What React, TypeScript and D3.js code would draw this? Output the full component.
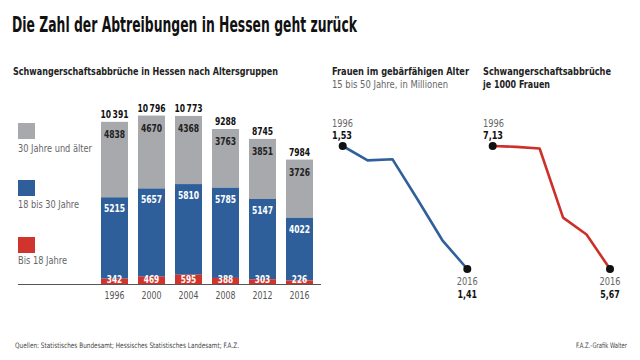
import React from "react";
import * as d3 from "d3";

const years = ["1996", "2000", "2004", "2008", "2012", "2016"];
const under18 = [342, 469, 595, 388, 303, 226];
const age18to30 = [5215, 5657, 5810, 5785, 5147, 4022];
const over30 = [4838, 4670, 4368, 3763, 3851, 3726];
const totals = [10391, 10796, 10773, 9288, 8745, 7984];

const womenMillions = [1.53, 1.516, 1.517, 1.478, 1.438, 1.41];
const ratePer1000 = [7.13, 7.12, 7.1, 6.28, 6.08, 5.67];

const legendLabels = ["30 Jahre und älter", "18 bis 30 Jahre", "Bis 18 Jahre"];

const GRAY = "#a7a9ac";
const BLUE = "#2e5f9b";
const RED = "#d1342d";
const LINE_BLUE = "#30609a";
const LINE_RED = "#cc3029";
const FONT = "'Liberation Sans Narrow','DejaVu Sans Condensed','Open Sans',sans-serif";

const fmtTotal = (v: number) => {
  const s = String(v);
  return s.length > 4 ? s.slice(0, s.length - 3) + "\u2009" + s.slice(-3) : s;
};
const fmtDec = (v: number) => v.toFixed(2).replace(".", ",");

const numW = (s: string) => s.replace(/\u2009/g, "").length * 5.3 + (s.includes("\u2009") ? 1.5 : 0);

type TP = {
  x: number; y: number; w: number; size: number; bold?: boolean; fill: string;
  anchor?: "start" | "middle" | "end"; children: React.ReactNode;
};
const T = ({ x, y, w, size, bold, fill, anchor = "start", children }: TP) => (
  <text x={x} y={y} fontSize={size} fontWeight={bold ? "bold" : "normal"} fill={fill}
    textAnchor={anchor} textLength={w} lengthAdjust="spacingAndGlyphs">{children}</text>
);

export default function App() {
  const x = d3.scaleBand<string>().domain(years).range([101, 313]).paddingInner(0.27).paddingOuter(0);
  const y = d3.scaleLinear().domain([0, 11000]).range([284, 284 - 11000 * 0.0156]);
  const bw = x.bandwidth();

  const x1 = d3.scalePoint<string>().domain(years).range([342.7, 467.3]);
  const y1 = d3.scaleLinear().domain([1.41, 1.53]).range([269, 146]);
  const x2 = d3.scalePoint<string>().domain(years).range([492.7, 610]);
  const y2 = d3.scaleLinear().domain([5.67, 7.13]).range([269, 146]);

  const line1 = d3.line<number>().x((_, i) => x1(years[i])!).y((d) => y1(d));
  const line2 = d3.line<number>().x((_, i) => x2(years[i])!).y((d) => y2(d));

  const legendColors = [GRAY, BLUE, RED];
  const legendSquareY = [123, 180, 237];
  const legendTextY = [152, 208, 264];
  const legendW = [74, 61, 49];

  const lineChart = (
    xs: d3.ScalePoint<string>,
    ys: d3.ScaleLinear<number, number>,
    data: number[],
    path: string,
    color: string,
    labelX: number
  ) => {
    const n = data.length - 1;
    return (
      <g>
        <path d={path} fill="none" stroke={color} strokeWidth={2.6} strokeLinejoin="round" />
        <circle cx={xs(years[0])} cy={ys(data[0])} r={4} fill="#111" />
        <circle cx={xs(years[n])} cy={ys(data[n])} r={4} fill="#111" />
        <T x={labelX} y={126.5} w={21} size={10} fill="#666">{years[0]}</T>
        <T x={labelX} y={139} w={20} size={11} bold fill="#111">{fmtDec(data[0])}</T>
        <T x={xs(years[n])!} y={285} w={21} size={10} fill="#666" anchor="middle">{years[n]}</T>
        <T x={xs(years[n])!} y={297.5} w={19.5} size={11} bold fill="#111" anchor="middle">{fmtDec(data[n])}</T>
      </g>
    );
  };

  return (
    <svg width={640} height={360} style={{ position: "absolute", left: 0, top: 0, background: "#fff" }} fontFamily={FONT}>
      <rect width={640} height={360} fill="#fff" />
      <T x={12} y={31.5} w={345} size={21} bold fill="#111">Die Zahl der Abtreibungen in Hessen geht zurück</T>

      <T x={13} y={75} w={265} size={11} bold fill="#222">Schwangerschaftsabbrüche in Hessen nach Altersgruppen</T>

      {legendLabels.map((l, i) => (
        <g key={l}>
          <rect x={18} y={legendSquareY[i]} width={17} height={16} fill={legendColors[i]} />
          <T x={18} y={legendTextY[i]} w={legendW[i]} size={10.5} fill="#666">{l}</T>
        </g>
      ))}

      {years.map((yr, i) => {
        const bx = x(yr)!;
        const cx = bx + bw / 2;
        const r0 = y(0), r1 = y(under18[i]);
        const b1 = y(under18[i] + age18to30[i]);
        const g1 = y(under18[i] + age18to30[i] + over30[i]);
        const tot = fmtTotal(totals[i]);
        return (
          <g key={yr}>
            <rect x={bx} y={g1} width={bw} height={b1 - g1} fill={GRAY} />
            <rect x={bx} y={b1} width={bw} height={r1 - b1} fill={BLUE} />
            <rect x={bx} y={r1} width={bw} height={r0 - r1} fill={RED} />
            <T x={cx} y={g1 - 3.5} w={numW(tot)} size={11} bold fill="#111" anchor="middle">{tot}</T>
            <T x={cx} y={g1 + 16} w={numW(String(over30[i]))} size={11} bold fill="#222" anchor="middle">{over30[i]}</T>
            <T x={cx} y={b1 + 15} w={numW(String(age18to30[i]))} size={11} bold fill="#fff" anchor="middle">{age18to30[i]}</T>
            <T x={cx} y={282.5} w={numW(String(under18[i])) - 0.5} size={10.5} bold fill="#fff" anchor="middle">{under18[i]}</T>
            <T x={cx} y={299} w={20} size={10.5} fill="#555" anchor="middle">{yr}</T>
          </g>
        );
      })}
      <line x1={18} x2={321} y1={284.5} y2={284.5} stroke="#555" strokeWidth={1} />

      <T x={332} y={75} w={137} size={11} bold fill="#222">Frauen im gebärfähigen Alter</T>
      <T x={332} y={88} w={116} size={10} fill="#666">15 bis 50 Jahre, in Millionen</T>
      {lineChart(x1, y1, womenMillions, line1(womenMillions) || "", LINE_BLUE, 332)}

      <T x={483} y={75} w={128} size={11} bold fill="#222">Schwangerschaftsabbrüche</T>
      <T x={483} y={88} w={67} size={11} bold fill="#222">je 1000 Frauen</T>
      {lineChart(x2, y2, ratePer1000, line2(ratePer1000) || "", LINE_RED, 483)}

      <T x={15} y={347.5} w={224} size={7.5} fill="#444">Quellen: Statistisches Bundesamt; Hessisches Statistisches Landesamt; F.A.Z.</T>
      <T x={627} y={347.5} w={51} size={7.5} fill="#444" anchor="end">F.A.Z.-Grafik Walter</T>
    </svg>
  );
}
